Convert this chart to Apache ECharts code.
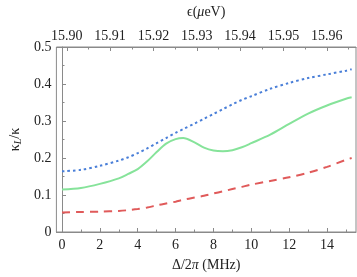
<!DOCTYPE html>
<html><head><meta charset="utf-8">
<script src="https://cdn.jsdelivr.net/npm/echarts@6/dist/echarts.min.js"></script>
<style>html,body{margin:0;padding:0;background:#fff}#c{width:357px;height:277px}</style>
</head><body><div id="c"></div>
<script>
// Detuning Δ/2π (MHz)
const detuning = [0,1,2,3,3.5,4,4.5,5,5.5,6,6.4,7,7.5,8,8.5,9,9.5,10,11,12,13,14,15,15.3];
// κ_L/κ curves
const blueDotted = [0.164,0.168,0.179,0.193,0.202,0.213,0.226,0.240,0.254,0.268,0.278,0.293,0.306,0.319,0.332,0.345,0.357,0.367,0.387,0.403,0.416,0.426,0.436,0.440];
const greenSolid = [0.115,0.119,0.130,0.145,0.157,0.170,0.191,0.216,0.239,0.251,0.254,0.242,0.228,0.220,0.218,0.221,0.229,0.240,0.263,0.292,0.320,0.342,0.360,0.364];
const redDashed  = [0.053,0.054,0.055,0.057,0.059,0.062,0.066,0.072,0.077,0.082,0.087,0.093,0.098,0.104,0.110,0.116,0.122,0.128,0.138,0.148,0.160,0.176,0.195,0.200];
// tick labels
const bottomTicks = [0,2,4,6,8,10,12,14];
const bottomMinor = [1,3,5,7,9,11,13,15];
const topTicks = [15.90,15.91,15.92,15.93,15.94,15.95,15.96];
const topMinor = [15.895,15.905,15.915,15.925,15.935,15.945,15.955,15.965];

const font = "'Liberation Serif', 'DejaVu Serif', serif";
const axisColor = '#8a8a8a';
const txt = '#222';
const pair = v => detuning.map((x,i)=>[x,v[i]]);

const chart = echarts.init(document.getElementById('c'));
const baseX = {
  type:'value', min:-0.296, max:15.53, splitLine:{show:false},
  axisLine:{lineStyle:{color:axisColor,width:1}}
};
const rich = {
  n:{fontFamily:font,fontSize:14,color:txt},
  i:{fontFamily:font,fontSize:14,fontStyle:'italic',color:txt}
};
chart.setOption({
  animation:false,
  textStyle:{fontFamily:font},
  grid:{left:45.5, right:1, top:42, bottom:42, show:true, borderColor:axisColor, borderWidth:1},
  xAxis:[
    Object.assign({}, baseX, {
      position:'bottom',
      name:'{n|Δ/2}{i|π}{n| (MHz)}', nameLocation:'middle', nameGap:26,
      nameTextStyle:{fontFamily:font,rich:rich},
      axisTick:{show:true,inside:true,length:4,customValues:bottomTicks,lineStyle:{color:axisColor}},
      axisLabel:{customValues:bottomTicks,fontFamily:font,fontSize:14,color:txt,margin:6,formatter:v=>String(Math.round(v))}
    }),
    Object.assign({}, baseX, {
      position:'bottom',
      axisLine:{show:false},
      axisTick:{show:true,inside:true,length:2.5,customValues:bottomMinor,lineStyle:{color:axisColor}},
      axisLabel:{show:false}
    }),
    {
      type:'value', position:'top', min:15.8976, max:15.96675, splitLine:{show:false},
      axisLine:{lineStyle:{color:axisColor,width:1}},
      name:'{n|ϵ(}{i|μ}{n|eV)}', nameLocation:'middle', nameGap:28,
      nameTextStyle:{fontFamily:font,rich:rich},
      axisTick:{show:true,inside:true,length:4,customValues:topTicks,lineStyle:{color:axisColor}},
      axisLabel:{customValues:topTicks,fontFamily:font,fontSize:14,color:txt,margin:4,formatter:v=>v.toFixed(2)}
    },
    {
      type:'value', position:'top', min:15.8976, max:15.96675, splitLine:{show:false},
      axisLine:{show:false},
      axisTick:{show:true,inside:true,length:2.5,customValues:topMinor,lineStyle:{color:axisColor}},
      axisLabel:{show:false}
    }
  ],
  yAxis:[{
    type:'value', min:0, max:0.5, interval:0.1, splitLine:{show:false},
    axisLine:{show:true,lineStyle:{color:axisColor,width:1}},
    axisTick:{show:true,inside:true,length:4,lineStyle:{color:axisColor}},
    minorTick:{show:true,splitNumber:2,length:2.5,lineStyle:{color:axisColor}},
    axisLabel:{fontFamily:font,fontSize:14,color:txt,margin:5,formatter:v=>v===0?'0':v.toFixed(1)},
    name:'{n|κ}{s|L}{n|/κ}', nameLocation:'middle', nameGap:28, nameRotate:90,
    nameTextStyle:{fontFamily:font,rich:{n:{fontFamily:font,fontSize:14,color:txt},s:{fontFamily:font,fontSize:10,fontStyle:'italic',color:txt,verticalAlign:'bottom',padding:[6,0,0,0]}}}
  }],
  series:[
    {type:'line', xAxisIndex:0, data:pair(blueDotted), smooth:0.3, symbol:'none',
     lineStyle:{color:'#4a7fd8',width:2,type:[2.5,3]}},
    {type:'line', xAxisIndex:0, data:pair(greenSolid), smooth:0.3, symbol:'none',
     lineStyle:{color:'#86e39a',width:2,type:'solid'}},
    {type:'line', xAxisIndex:0, data:pair(redDashed), smooth:0.3, symbol:'none',
     lineStyle:{color:'#e05a5a',width:2,type:[8,6]}}
  ]
});
</script></body></html>
